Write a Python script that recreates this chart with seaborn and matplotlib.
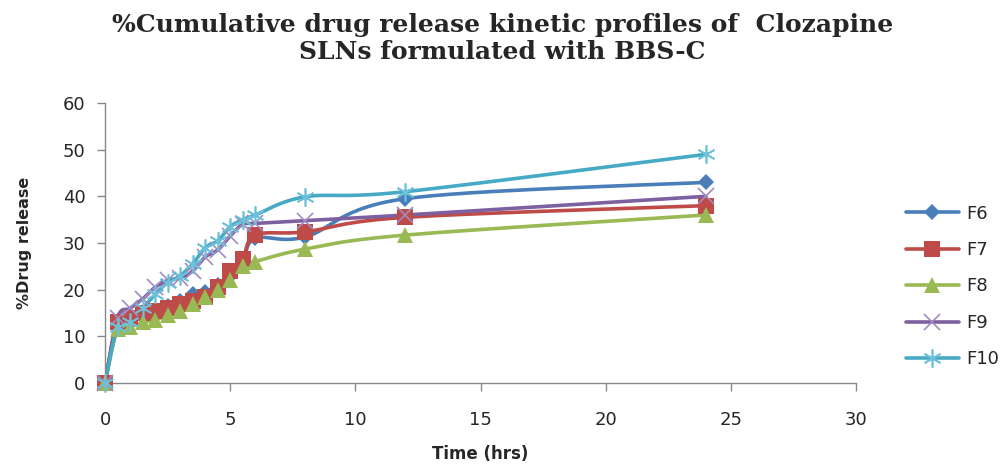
import numpy as np
import pandas as pd
import matplotlib
matplotlib.use("Agg")
import matplotlib.pyplot as plt
import seaborn as sns
from matplotlib.lines import Line2D

# ---- data ----
time_hrs = [0, 0.5, 1, 1.5, 2, 2.5, 3, 3.5, 4, 4.5, 5, 5.5, 6, 8, 12, 24]
F6 = [0, 13, 14, 15, 15.5, 16.5, 17.5, 19, 19.5, 21, 23, 26, 31, 31.3, 39.5, 43]
F7 = [0, 13, 14, 15, 15.5, 16, 17, 17.5, 18.5, 20.5, 24, 26.5, 31.7, 32.4, 35.5, 38]
F8 = [0, 11.5, 12, 13, 13.5, 14.5, 15.5, 17, 18.5, 20, 22, 25, 26, 28.7, 31.7, 36]
F9 = [0, 14, 16, 18, 20.5, 22, 22.5, 24, 27, 28.5, 31.5, 34, 34.2, 34.8, 36, 40]
F10 = [0, 12, 13, 16, 19, 21.5, 23, 25.5, 29, 30.5, 33.5, 35, 36, 39.9, 41, 49]
series_names = ["F6", "F7", "F8", "F9", "F10"]
series_vals = [F6, F7, F8, F9, F10]
x_ticks = [0, 5, 10, 15, 20, 25, 30]
y_ticks = [0, 10, 20, 30, 40, 50, 60]
title = "%Cumulative drug release kinetic profiles of  Clozapine\nSLNs formulated with BBS-C"

line_colors = ["#4A7EBB", "#BE4B48", "#98B954", "#7D60A0", "#46AAC5"]
marker_colors = ["#4A7EBB", "#BE4B48", "#98B954", "#A08CC0", "#6CC0DA"]
markers = ["D", "s", "^", "x", (6, 2, 0)]
msizes = [8.5, 11, 11, 11, 13]


def smooth(x, y, n=30):
    P = np.column_stack([x, y]).astype(float)
    P = np.vstack([P[0], P, P[-1]])
    out = []
    for i in range(1, len(P) - 2):
        p0, p1, p2, p3 = P[i - 1], P[i], P[i + 1], P[i + 2]
        c1 = p1 + (p2 - p0) / 6.0
        c2 = p2 - (p3 - p1) / 6.0
        t = np.linspace(0, 1, n, endpoint=(i == len(P) - 3))[:, None]
        b = ((1 - t) ** 3) * p1 + 3 * ((1 - t) ** 2) * t * c1 + 3 * (1 - t) * t ** 2 * c2 + t ** 3 * p2
        out.append(b)
    out = np.vstack(out)
    return out[:, 0], out[:, 1]


sns.set_style("white")
plt.rcParams["font.family"] = ["DejaVu Sans"]

fig = plt.figure(figsize=(10.05, 4.65), dpi=100)
ax = fig.add_axes([0.1045, 0.1763, 0.7473, 0.6022])

handles = []
for name, vals, lc, mc, mk, ms in zip(series_names, series_vals, line_colors, marker_colors, markers, msizes):
    sx, sy = smooth(time_hrs, vals)
    sns.lineplot(x=sx, y=sy, ax=ax, color=lc, linewidth=2.6, sort=False, estimator=None)
    mew = 1.2 if mk in ("x",) or isinstance(mk, tuple) else 0
    ax.plot(time_hrs, vals, linestyle="none", marker=mk, markersize=ms,
            color=mc, markeredgecolor=mc, markeredgewidth=mew, zorder=3, clip_on=False)
    handles.append(Line2D([0], [0], color=lc, linewidth=2.6, marker=mk, markersize=ms,
                          markerfacecolor=mc, markeredgecolor=mc, markeredgewidth=mew))

ax.set_xlim(0, 30)
ax.set_ylim(0, 60)
ax.set_xticks(x_ticks)
ax.set_yticks(y_ticks)
ax.tick_params(axis="both", labelsize=13, length=6, width=1, color="#888888", direction="out",
               bottom=True, left=True)
ax.tick_params(axis="x", pad=14)
ax.tick_params(axis="y", pad=8)
for s in ["top", "right"]:
    ax.spines[s].set_visible(False)
for s in ["left", "bottom"]:
    ax.spines[s].set_color("#888888")
    ax.spines[s].set_linewidth(1)

ax.set_xlabel("Time (hrs)", fontsize=12, fontweight="bold", labelpad=12)
ax.set_ylabel("%Drug release", fontsize=11.5, fontweight="bold", labelpad=22)

fig.text(0.5, 0.972, title, ha="center", va="top", fontsize=18, fontweight="bold",
         family="DejaVu Serif", linespacing=1.15)

leg = fig.legend(handles, series_names, loc="center left", bbox_to_anchor=(0.885, 0.384),
                 frameon=False, fontsize=13, handlelength=2.95, labelspacing=1.02, handletextpad=0.4)

fig.savefig("out.png", dpi=100)
